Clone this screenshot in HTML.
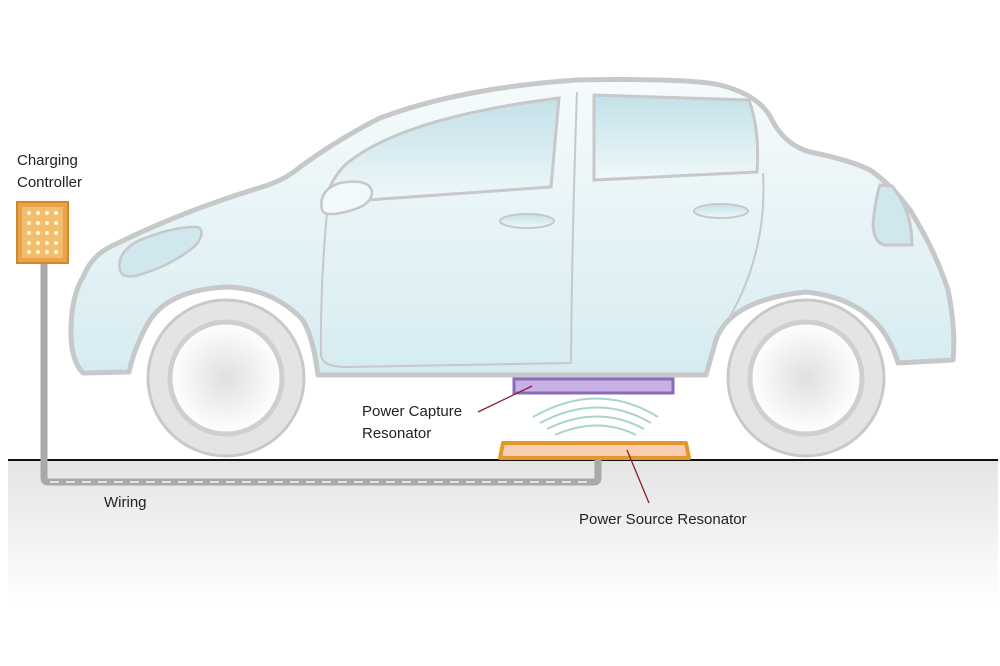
<!DOCTYPE html>
<html><head><meta charset="utf-8"><style>
html,body{margin:0;padding:0;background:#fff;}
svg{display:block;}
text{font-family:"Liberation Sans",sans-serif;font-size:15px;fill:#222;}
</style></head><body>
<svg width="1000" height="666" viewBox="0 0 1000 666">
<defs>
<linearGradient id="gnd" x1="0" y1="0" x2="0" y2="1">
<stop offset="0" stop-color="#e4e4e4"/><stop offset="1" stop-color="#ffffff"/>
</linearGradient>
<linearGradient id="body" x1="0" y1="0" x2="0" y2="1">
<stop offset="0" stop-color="#f6fbfc"/><stop offset="1" stop-color="#d6ecf1"/>
</linearGradient>
<linearGradient id="win" x1="0" y1="0" x2="0" y2="1">
<stop offset="0" stop-color="#c2e1e8"/><stop offset="1" stop-color="#f0f8fa"/>
</linearGradient>
<radialGradient id="hub"><stop offset="0" stop-color="#e0e0e0"/><stop offset="1" stop-color="#ffffff"/></radialGradient>
</defs>
<rect x="8" y="460" width="990" height="145" fill="url(#gnd)"/>
<line x1="8" y1="460" x2="998" y2="460" stroke="#111" stroke-width="2"/>

<!-- wiring -->
<path d="M44 263 V478 Q44 482 48 482 H594 Q598 482 598 478 V460" fill="none" stroke="#a9a9ab" stroke-width="7"/>
<path d="M50 482 H592" fill="none" stroke="#e4e4e4" stroke-width="2" stroke-dasharray="9 7"/>
<!-- controller -->
<rect x="17" y="202" width="51" height="61" fill="#e9a34a" stroke="#d4862a" stroke-width="2"/>
<rect x="22" y="207" width="41" height="51" fill="#f2bd6d"/>
<g fill="#fff6d9">
<circle cx="29" cy="213" r="2"/><circle cx="38" cy="213" r="2"/><circle cx="47" cy="213" r="2"/><circle cx="56" cy="213" r="2"/>
<circle cx="29" cy="223" r="2"/><circle cx="38" cy="223" r="2"/><circle cx="47" cy="223" r="2"/><circle cx="56" cy="223" r="2"/>
<circle cx="29" cy="233" r="2"/><circle cx="38" cy="233" r="2"/><circle cx="47" cy="233" r="2"/><circle cx="56" cy="233" r="2"/>
<circle cx="29" cy="243" r="2"/><circle cx="38" cy="243" r="2"/><circle cx="47" cy="243" r="2"/><circle cx="56" cy="243" r="2"/>
<circle cx="29" cy="252" r="2"/><circle cx="38" cy="252" r="2"/><circle cx="47" cy="252" r="2"/><circle cx="56" cy="252" r="2"/>
</g>
<text x="17" y="165">Charging</text>
<text x="17" y="187">Controller</text>

<!-- car body -->
<path d="M83 373 Q70 360 71 327 Q72 295 83 277 Q92 255 112 246 Q180 212 262 187 Q285 180 300 167 Q340 138 380 118 Q460 88 577 80 Q690 78 720 85 Q760 95 772 120 Q785 145 810 152 Q850 160 870 170 Q892 185 910 210 Q935 250 948 290 Q956 330 953 360 L898 363 Q880 300 806 292 Q730 300 716 340 L706 375 L318 375 Q312 330 300 317 Q270 288 226 287 Q170 290 150 320 Q135 345 129 372 Z" fill="url(#body)" stroke="#c6c8ca" stroke-width="5" stroke-linejoin="round"/>
<!-- windows -->
<path d="M325 203 Q330 180 345 165 Q400 118 559 98 L551 187 Z" fill="url(#win)" stroke="#c6c8ca" stroke-width="3"/>
<path d="M594 95 L749 100 Q760 130 757 172 L594 180 Z" fill="url(#win)" stroke="#c6c8ca" stroke-width="3"/>
<!-- door lines -->
<path d="M327 212 Q320 290 321 355 Q322 367 347 367 L571 363" fill="none" stroke="#c6c8ca" stroke-width="2"/>
<path d="M577 92 Q572 230 571 363" fill="none" stroke="#c6c8ca" stroke-width="2"/>
<path d="M763 173 Q768 260 720 333" fill="none" stroke="#c6c8ca" stroke-width="2"/>
<!-- mirror -->
<path d="M322 210 Q318 190 340 183 Q370 178 372 192 Q372 206 345 212 Q325 217 322 210 Z" fill="#f2f9fb" stroke="#c6c8ca" stroke-width="2.5"/>
<!-- handles -->
<ellipse cx="527" cy="221" rx="27" ry="7" fill="url(#win)" stroke="#c6c8ca" stroke-width="2"/>
<ellipse cx="721" cy="211" rx="27" ry="7" fill="url(#win)" stroke="#c6c8ca" stroke-width="2"/>
<!-- headlight -->
<path d="M120 270 Q116 252 140 240 Q175 226 198 227 Q206 232 196 245 Q172 266 135 276 Q122 278 120 270 Z" fill="#cfe7ed" stroke="#c6c8ca" stroke-width="2.5"/>
<!-- tail light -->
<path d="M880 185 Q875 200 873 225 Q874 243 885 245 L912 245 Q912 210 892 186 Z" fill="#cfe7ed" stroke="#c6c8ca" stroke-width="3"/>

<!-- wheels -->
<g>
<circle cx="226" cy="378" r="78" fill="#e4e4e4" stroke="#c9c9c9" stroke-width="3"/>
<circle cx="226" cy="378" r="56" fill="url(#hub)" stroke="#cfcfcf" stroke-width="5"/>
<circle cx="806" cy="378" r="78" fill="#e4e4e4" stroke="#c9c9c9" stroke-width="3"/>
<circle cx="806" cy="378" r="56" fill="url(#hub)" stroke="#cfcfcf" stroke-width="5"/>
</g>

<!-- capture resonator -->
<rect x="514" y="379" width="159" height="14" fill="#c9b0e6" stroke="#8a6cb8" stroke-width="3"/>
<!-- waves -->
<g fill="none" stroke="#a9d4cc" stroke-width="2">
<path d="M533 417 Q598 380 658 417"/>
<path d="M540 423 Q598 392 651 423"/>
<path d="M547 429 Q598 404 644 429"/>
<path d="M555 435 Q598 416 636 435"/>
</g>
<!-- source resonator -->
<path d="M503 443 L686 443 L689 458 L500 458 Z" fill="#f8cdb1" stroke="#e2982f" stroke-width="4" stroke-linejoin="round"/>

<!-- leaders -->
<line x1="478" y1="412" x2="532" y2="386" stroke="#8a1f2a" stroke-width="1.3"/>
<line x1="627" y1="450" x2="649" y2="503" stroke="#8a1f2a" stroke-width="1.3"/>

<text x="362" y="416">Power Capture</text>
<text x="362" y="438">Resonator</text>
<text x="104" y="507">Wiring</text>
<text x="579" y="524">Power Source Resonator</text>
</svg>
</body></html>
